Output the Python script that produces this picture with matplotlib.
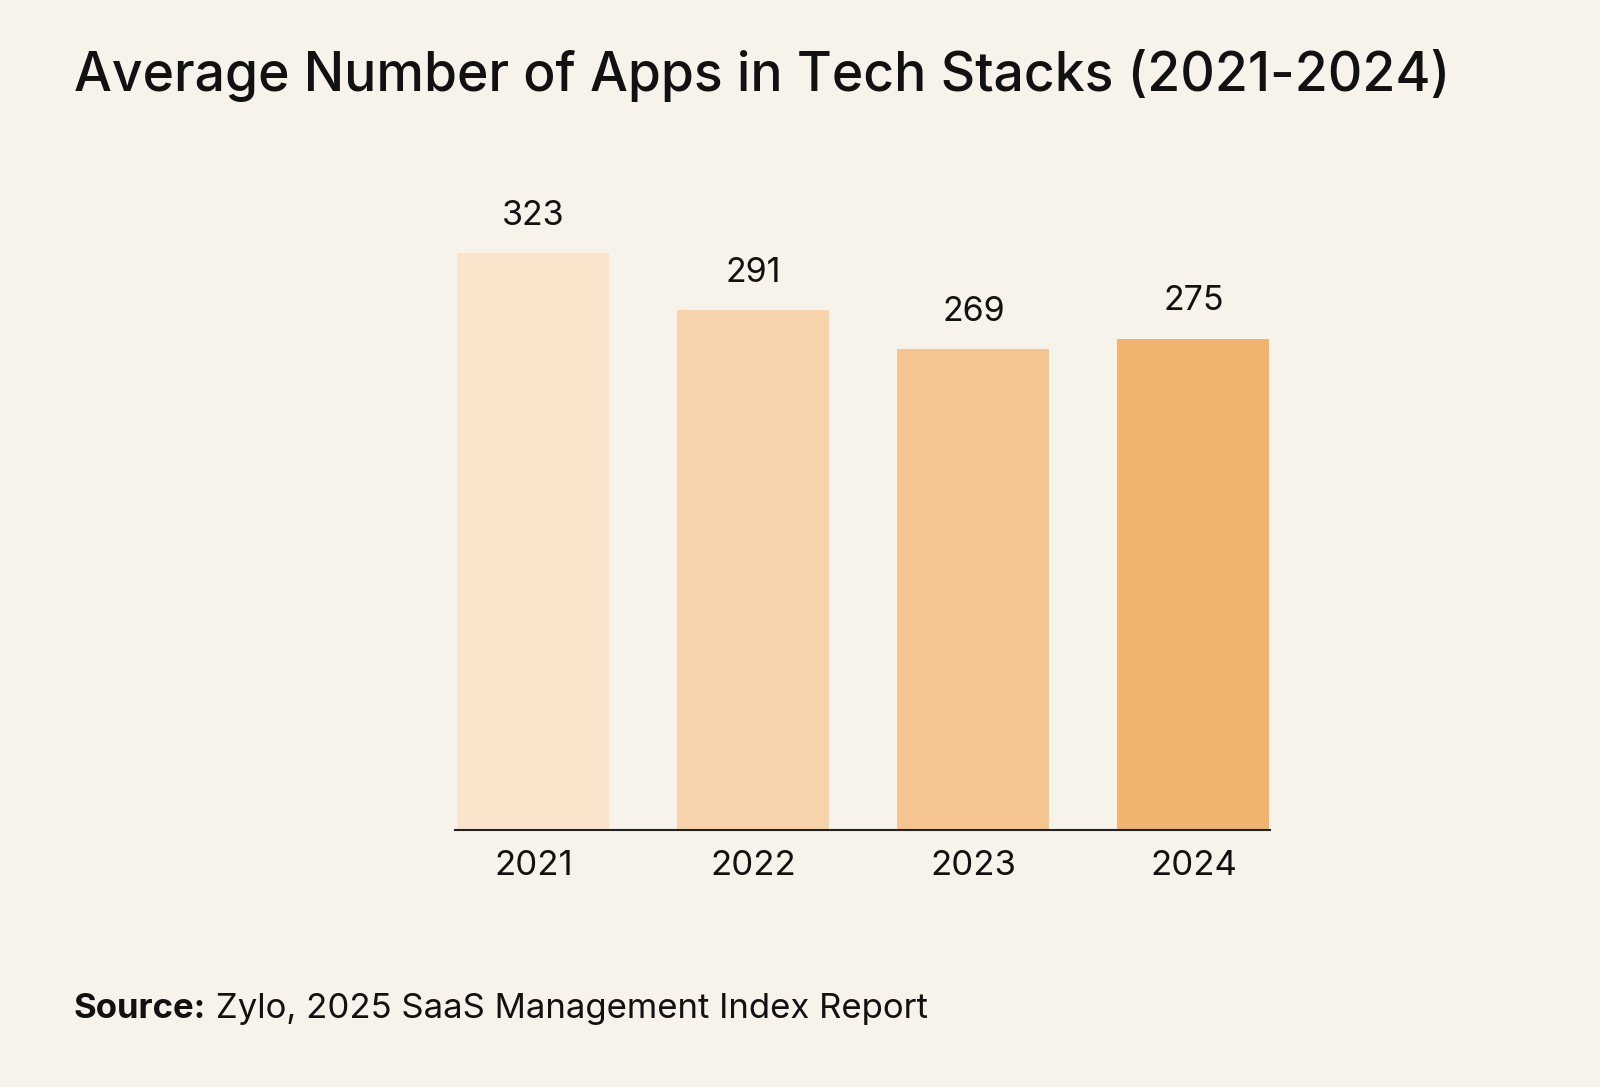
import matplotlib
matplotlib.use("Agg")
import matplotlib.pyplot as plt

years = ["2021", "2022", "2023", "2024"]
apps = [323, 291, 269, 275]
bar_colors = ["#FAE4CC", "#F8D4AC", "#F4C591", "#F0B370"]

BG = "#F7F3EB"
plt.rcParams['font.family'] = ['Inter', 'DejaVu Sans']

W, H = 1600, 1087
S = 1600 / 1568  # pixel scale factor

fig = plt.figure(figsize=(16, 10.87), dpi=100, facecolor=BG)
left = 446 * S
right = 1245 * S
base = 813 * S
px_per_unit = (813 - 248) * S / 323
ytop = 360
ax = fig.add_axes([left / W, 1 - base / H, (right - left) / W, ytop * px_per_unit / H])
ax.set_facecolor(BG)

x = list(range(len(years)))
ax.bar(x, apps, width=0.69, color=bar_colors, zorder=2)
ax.set_xlim(-0.355, 3.35)
ax.set_ylim(0, ytop)

for xi, v in zip(x, apps):
    ax.annotate(str(v), xy=(xi, v), xytext=(0, 27), textcoords="offset points",
                ha="center", va="center", fontsize=24.5, color="#111111")

ax.set_xticks(x)
ax.set_xticklabels(years, fontsize=25, color="#111111")
ax.tick_params(axis="x", length=0, pad=15)
ax.set_yticks([])
for s in ["top", "right", "left"]:
    ax.spines[s].set_visible(False)
ax.spines["bottom"].set_color("#222222")
ax.spines["bottom"].set_linewidth(1.5)

fig.text(73.5 / W, 1 - 76 / H, "Average Number of Apps in Tech Stacks (2021-2024)",
         fontsize=38.5, fontweight="medium", color="#111111", ha="left", va="center")

t1 = fig.text(73.5 / W, 1 - 1025 / H, "Source:", fontsize=25, fontweight="bold",
              color="#111111", ha="left", va="bottom")
ax.annotate(" Zylo, 2025 SaaS Management Index Report", xy=(1, 0), xycoords=t1,
            ha="left", va="bottom", fontsize=25, color="#111111",
            annotation_clip=False)

fig.savefig("out.png", dpi=100, facecolor=BG)
